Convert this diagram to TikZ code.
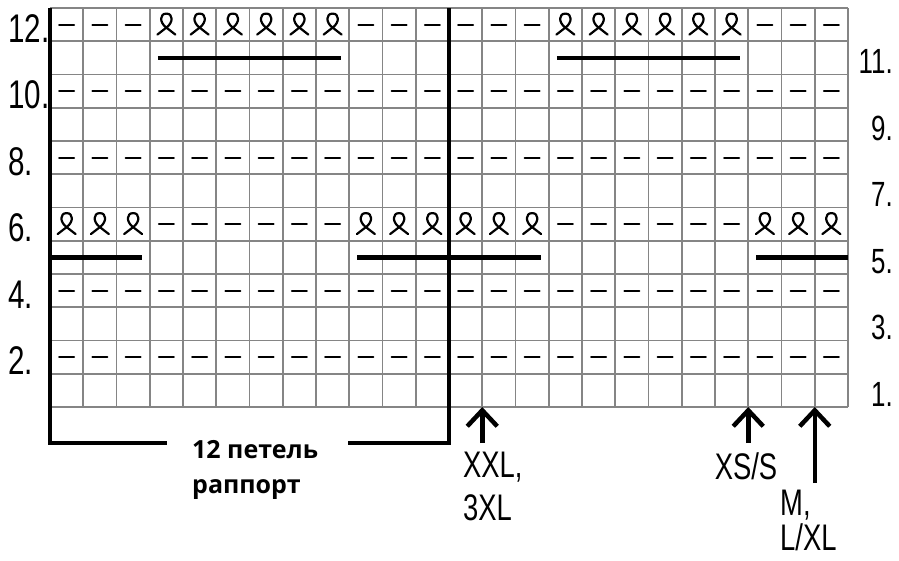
\documentclass[tikz,border=0pt]{standalone}
\usepackage{fontspec}
\setmainfont{Liberation Sans}[FakeStretch=0.74]
\newfontfamily\raportfont{Open Sans}
\usetikzlibrary{arrows.meta}

\newcommand{\cw}{33.25}

\tikzset{
	setka/.style={draw=black!48, line width=1.8pt},
	tolsta/.style={line width=4.5pt, line join=miter},
	znak/.style={line width=2.2pt, line cap=round},
	strelka/.style={line width=4.5pt, -{Straight Barb[length=16pt, width=30pt]}},
	levnum/.style={anchor=base west, inner sep=0pt, font=\fontsize{40}{44}\selectfont},
	pravnum/.style={anchor=base east, inner sep=0pt, font=\fontsize{35}{38}\selectfont},
	razmer/.style={inner sep=0pt, align=left},
	petlya/.pic={\draw[znak] (-9,10) -- (0,3) .. controls (7,-2) and (7,-11) .. (0,-11) .. controls (-7,-11) and (-7,-2) .. (0,3) -- (9,10);}
}

\begin{document}
\begin{tikzpicture}[x=1pt, y=-1pt, line join=round]
	\useasboundingbox (0,0) rectangle (899,560);
	% setka
	\foreach \i in {0,...,24}
	\draw[setka] (50+\i*\cw,8)--(50+\i*\cw,407);
	\foreach \j in {0,...,12}
	\draw[setka] (50,8+\j*\cw)--(848,8+\j*\cw);
	% iznanochnye ryady
	\foreach \r in {10,8,4,2}
	\foreach \c in {1,...,24}
	\draw[znak] (50+\c*\cw-\cw/2-7.5,407-\r*\cw+\cw/2)--++(15,0);
	\foreach \c in {1,2,3,10,11,12,13,14,15,22,23,24}{
		\draw[znak] (50+\c*\cw-\cw/2-7.5,24.6)--++(15,0);
		\pic at (50+\c*\cw-\cw/2,224.1) {petlya};
	}
	\foreach \c in {4,5,6,7,8,9,16,17,18,19,20,21}{
		\pic at (50+\c*\cw-\cw/2,24.6) {petlya};
		\draw[znak] (50+\c*\cw-\cw/2-7.5,224.1)--++(15,0);
	}
	% protyazhki
	\draw[tolsta] (50+3*\cw+8,58)--(50+9*\cw-8,58);
	\draw[tolsta] (50+15*\cw+8,58)--(50+21*\cw-8,58);
	\draw[tolsta] (50,257.4)--(50+3*\cw-8,257.4);
	\draw[tolsta] (50+9*\cw+8,257.4)--(50+15*\cw-8,257.4);
	\draw[tolsta] (50+21*\cw+8,257.4)--(848,257.4);
	% raport
	\draw[tolsta] (50,8)--(50,443)--(167,443);
	\draw[tolsta] (348,443)--(50+12*\cw,443)--(50+12*\cw,8);
	\node[razmer, anchor=north west, font=\raportfont\bfseries\fontsize{25}{35}\selectfont] (raport) at (192,440) {12 петель\\раппорт};
	% nomera ryadov
	\foreach \n in {12,10,8,6,4,2}
	\node[levnum] (lev\n) at (8,407-\n*\cw+\cw+1) {\n.};
	\foreach \n in {11,9,7,5,3,1}
	\node[pravnum] (prav\n) at (893,407-\n*\cw+\cw-1) {\n.};
	% razmery
	\coordinate (niz) at (0,407);
	\coordinate (xxl) at (50+13*\cw,443);
	\coordinate (xss) at (50+21*\cw,443);
	\coordinate (mlxl) at (50+23*\cw,483);
	\draw[strelka] (xxl)--(xxl |- niz);
	\draw[strelka] (xss)--(xss |- niz);
	\draw[strelka] (mlxl)--(mlxl |- niz);
	\node[razmer, anchor=north west, font=\fontsize{37}{43}\selectfont] (xxlt) at (463,452) {XXL,\\3XL};
	\node[razmer, anchor=north, font=\fontsize{37}{43}\selectfont] (xst) at (746,452) {XS/S};
	\node[razmer, anchor=north west, font=\fontsize{37}{35}\selectfont] (mlt) at (780,490) {M,\\L/XL};
\end{tikzpicture}
\end{document}
